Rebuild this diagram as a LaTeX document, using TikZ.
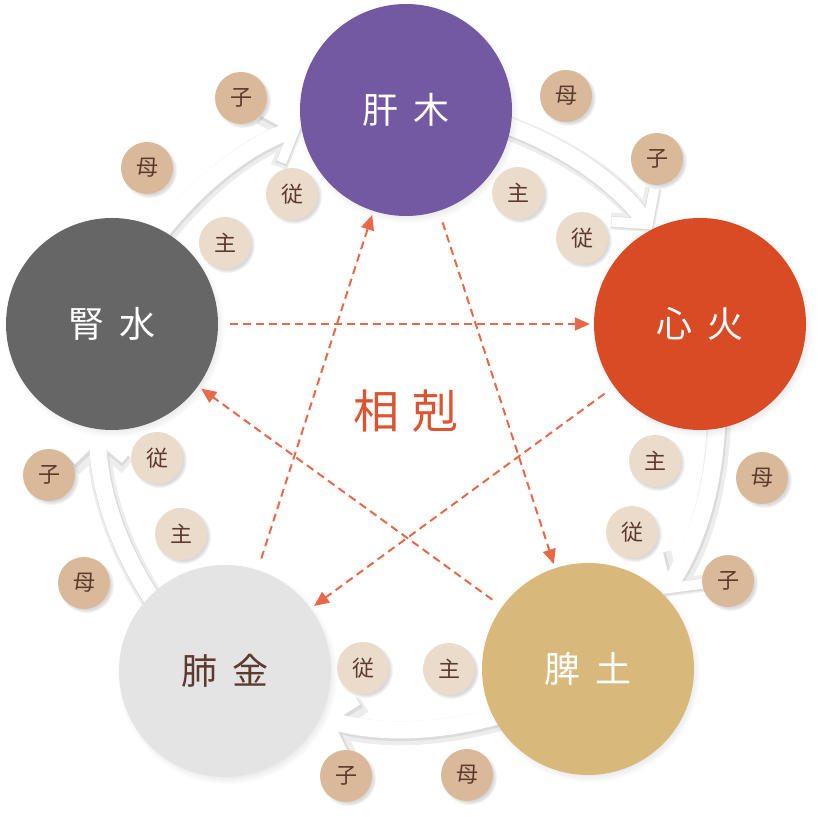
\documentclass[tikz,border=0pt]{standalone}
\usepackage{fontspec}
\newfontfamily\cjk{Noto Sans CJK JP}
\usetikzlibrary{arrows.meta,shadows,fadings}
\definecolor{cgan}{HTML}{7259A2}
\definecolor{cxin}{HTML}{D84B24}
\definecolor{cpi}{HTML}{D8B87B}
\definecolor{cfei}{HTML}{E4E4E4}
\definecolor{cshen}{HTML}{666666}
\definecolor{cdark}{HTML}{D9B999}
\definecolor{clight}{HTML}{EADBCB}
\definecolor{ctext}{HTML}{5C3A2E}
\definecolor{cke}{HTML}{E8694A}
\definecolor{cketext}{HTML}{DE5330}
\pgfdeclarelayer{bg}
\pgfsetlayers{bg,main}
\begin{document}
\begin{tikzpicture}[x=1pt,y=1pt,
  big/.style={circle, minimum size=212pt, inner sep=0pt, text=white,
     font=\cjk\fontsize{36}{40}\selectfont,
     circular drop shadow={shadow xshift=2pt, shadow yshift=-3pt, shadow scale=1.04, opacity=0.3}},
  sm/.style={circle, minimum size=52pt, inner sep=0pt, text=ctext,
     font=\cjk\fontsize{22}{24}\selectfont,
     circular drop shadow={shadow xshift=2pt, shadow yshift=-2pt, shadow scale=1.08, opacity=0.3}},
  smd/.style={sm, fill=cdark},
  sml/.style={sm, fill=clight},
  flow/.style={draw=white, line width=17pt, shorten <=-12pt,
     -{Straight Barb[length=24pt,width=54pt,line width=10pt]}},
  flowsha/.style={draw=black!7, line width=24pt, shorten <=-12pt,
     -{Straight Barb[length=24pt,width=54pt,line width=17pt]}},
  flowshb/.style={draw=black!14, line width=19pt, shorten <=-12pt,
     -{Straight Barb[length=24pt,width=54pt,line width=12pt]}},
  ke/.style={draw=cke, line width=2pt, dash pattern=on 8pt off 5pt,
     shorten <=12pt, shorten >=4pt, -{Triangle[length=15pt,width=13pt]}}
]
\useasboundingbox (0,0) rectangle (818,816);

% main elements
\node[big, fill=cgan] (gan) at (406,706) {肝\hspace{0.4em}木};
\node[big, fill=cxin] (xin) at (700,492) {心\hspace{0.4em}火};
\node[big, fill=cpi] (pix) at (588,147) {脾\hspace{0.4em}土};
\node[big, fill=cfei, text=ctext] (fei) at (225,145) {肺\hspace{0.4em}金};
\node[big, fill=cshen] (shen) at (112,492) {腎\hspace{0.4em}水};

% generating cycle (arcs on the circle through the centres)
\begin{pgfonlayer}{bg}
\foreach \a/\b/\t in {gan/xin/90, xin/pix/18, pix/fei/-54, fei/shen/-126, shen/gan/162} {
  \pgfmathsetmacro\sa{\t-99.8}
  \pgfmathsetmacro\ea{\t-72+99.8}
  \pgfmathsetmacro\ou{\t-109.7}
  \pgfmathsetmacro\iu{\t-72+109.7}
  \draw[flowsha, transform canvas={shift={(2pt,-3pt)}}] (\a.\sa) to[out=\ou,in=\iu,looseness=0.87] (\b.\ea);
  \draw[flowshb, transform canvas={shift={(1pt,-1.5pt)}}] (\a.\sa) to[out=\ou,in=\iu,looseness=0.87] (\b.\ea);
  \draw[flow] (\a.\sa) to[out=\ou,in=\iu,looseness=0.87] (\b.\ea);
}
\end{pgfonlayer}

% controlling cycle
\draw[ke] (gan) -- (pix);
\draw[ke] (pix) -- (shen);
\draw[ke] (shen) -- (xin);
\draw[ke] (xin) -- (fei);
\draw[ke] (fei) -- (gan);
\node[text=cketext, font=\cjk\fontsize{46}{50}\selectfont] (title) at (406,405) {相\hspace{0.3em}剋};

% small labels
\node[smd] (a1) at (566,720) {母};
\node[smd] (a2) at (657,657) {子};
\node[sml] (a3) at (518,623) {主};
\node[sml] (a4) at (582,578) {従};
\node[smd] (b1) at (241,718) {子};
\node[smd] (b2) at (147,648) {母};
\node[sml] (b3) at (292,622) {従};
\node[sml] (b4) at (225,573) {主};
\node[sml] (c1) at (655,355) {主};
\node[smd] (c2) at (762,338) {母};
\node[sml] (c3) at (632,284) {従};
\node[smd] (c4) at (728,235) {子};
\node[sml] (d1) at (363,148) {従};
\node[sml] (d2) at (449,147) {主};
\node[smd] (d3) at (346,40) {子};
\node[smd] (d4) at (467,41) {母};
\node[sml] (e1) at (157,358) {従};
\node[smd] (e2) at (49,341) {子};
\node[sml] (e3) at (181,282) {主};
\node[smd] (e4) at (84,233) {母};
\end{tikzpicture}
\end{document}
